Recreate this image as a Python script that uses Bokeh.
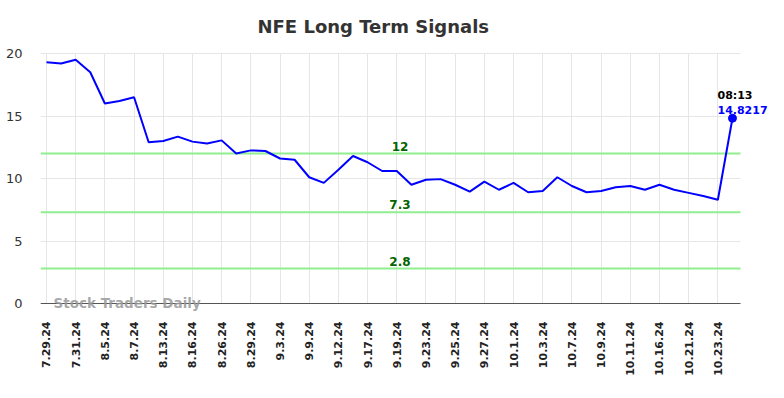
from bokeh.plotting import figure
from bokeh.models import Span, Label, FixedTicker, Range1d, BoxAnnotation
from bokeh.core.properties import value
from bokeh.embed import file_html
from bokeh.resources import INLINE

dates = ["7.29.24", "7.31.24", "8.5.24", "8.7.24", "8.13.24", "8.16.24", "8.26.24",
         "8.29.24", "9.3.24", "9.9.24", "9.12.24", "9.17.24", "9.19.24", "9.23.24",
         "9.25.24", "9.27.24", "10.1.24", "10.3.24", "10.7.24", "10.9.24", "10.11.24",
         "10.16.24", "10.21.24", "10.23.24"]

prices = [19.3, 19.2, 19.5, 18.5, 16.0, 16.2, 16.5, 12.9, 13.0, 13.35, 12.95, 12.8,
          13.05, 12.0, 12.25, 12.2, 11.6, 11.5, 10.1, 9.65, 10.7, 11.8, 11.3, 10.6,
          10.6, 9.5, 9.9, 9.95, 9.5, 8.95, 9.75, 9.1, 9.65, 8.9, 9.0, 10.1, 9.4, 8.9,
          9.0, 9.3, 9.4, 9.1, 9.5, 9.1, 8.85, 8.6, 8.3, 14.8217]

levels = [12, 7.3, 2.8]
level_labels = ["12", "7.3", "2.8"]
last_time = "08:13"
title = "NFE Long Term Signals"

x = list(range(len(prices)))
tick_pos = list(range(0, 2 * len(dates), 2))

# visible plot area: x from -0.41 to last+0.55, y from 0 to 20 (700 x 250 px)
x_lo, x_hi = -0.41, len(prices) - 1 + 0.55
y_lo, y_hi = 0, 20
px_per_x = 700 / (x_hi - x_lo)
px_per_y = 250 / (y_hi - y_lo)
x_ext = x_lo + 744 / px_per_x      # room on the right for the last-value note
y_bot = y_lo - 10 / px_per_y       # room below for the watermark
y_top = y_hi + 53 / px_per_y       # room above for the title

p = figure(width=784, height=398, frame_width=744, frame_height=313,
           output_backend="svg", toolbar_location=None,
           x_range=Range1d(x_lo, x_ext), y_range=Range1d(y_bot, y_top),
           min_border_left=40, min_border_right=0, min_border_top=0, min_border_bottom=85)

p.outline_line_color = None
p.background_fill_color = "white"

p.xaxis.ticker = FixedTicker(ticks=tick_pos)
p.xaxis.major_label_overrides = {t: d for t, d in zip(tick_pos, dates)}
p.xaxis.major_label_orientation = 1.5708
p.xaxis.major_label_text_font = "DejaVu Sans"
p.xaxis.major_label_text_font_style = "bold"
p.xaxis.major_label_text_font_size = "11px"
p.xaxis.major_label_text_color = "#222222"
p.xaxis.axis_line_color = None
p.xaxis.major_tick_line_color = None
p.xaxis.minor_tick_line_color = None
p.xaxis.major_label_standoff = 2

p.yaxis.ticker = FixedTicker(ticks=[0, 5, 10, 15, 20])
p.yaxis.axis_line_color = None
p.yaxis.major_tick_line_color = None
p.yaxis.minor_tick_line_color = None
p.yaxis.major_label_text_font = "DejaVu Sans"
p.yaxis.major_label_text_font_size = "13px"
p.yaxis.major_label_text_color = "#333333"
p.yaxis.major_label_standoff = 12

p.xgrid.grid_line_color = "#e6e6e6"
p.ygrid.grid_line_color = "#e6e6e6"

for lv in levels:
    p.add_layout(Span(location=lv, dimension="width", line_color="#90ee90",
                      line_width=2, level="underlay"))

# blank out grid lines outside the visible plot area, then draw the x-axis line
p.add_layout(BoxAnnotation(top=y_lo, fill_color="white", fill_alpha=1,
                           line_color=None, level="underlay"))
p.add_layout(BoxAnnotation(bottom=y_hi + 0.6 / px_per_y, fill_color="white", fill_alpha=1,
                           line_color=None, level="underlay"))
p.add_layout(Span(location=y_lo, dimension="width", line_color="#555555",
                  line_width=1, level="underlay"))
p.add_layout(BoxAnnotation(left=x_hi, fill_color="white", fill_alpha=1,
                           line_color=None, level="underlay"))

p.add_layout(Label(x=217, y=313 - 26, x_units="screen", y_units="screen", text=title,
                   text_font="DejaVu Sans", text_font_style="bold", text_font_size="18px",
                   text_color="#333333", text_align="left", text_baseline="middle"))

mid = (len(prices) - 1) / 2 + 0.72
p.text(x=[mid] * len(levels), y=levels, text=level_labels,
       text_font=value("DejaVu Sans"), text_font_style="bold", text_font_size="12px",
       text_color="#006400", text_align="center", text_baseline="bottom", y_offset=-3)

p.line(x, prices, line_color="#0000ff", line_width=2)
p.scatter([x[-1]], [prices[-1]], size=8, color="#0000ff")

p.add_layout(Label(x=x[-1], y=prices[-1], text=last_time, text_font="DejaVu Sans",
                   text_font_style="bold", text_font_size="11px", text_color="#000000",
                   text_align="left", text_baseline="bottom", x_offset=-15, y_offset=16))
p.add_layout(Label(x=x[-1], y=prices[-1], text=f"{prices[-1]:.4f}", text_font="DejaVu Sans",
                   text_font_style="bold", text_font_size="11px", text_color="#0000ff",
                   text_align="left", text_baseline="bottom", x_offset=-15, y_offset=4))

p.add_layout(Label(x=x_lo, y=y_lo, x_offset=13, y_offset=-7,
                   text="Stock Traders Daily", text_font="DejaVu Sans",
                   text_font_style="bold", text_font_size="13.5px",
                   text_color="#999999", text_alpha=0.85))

open("out.html", "w").write(file_html(p, INLINE))
